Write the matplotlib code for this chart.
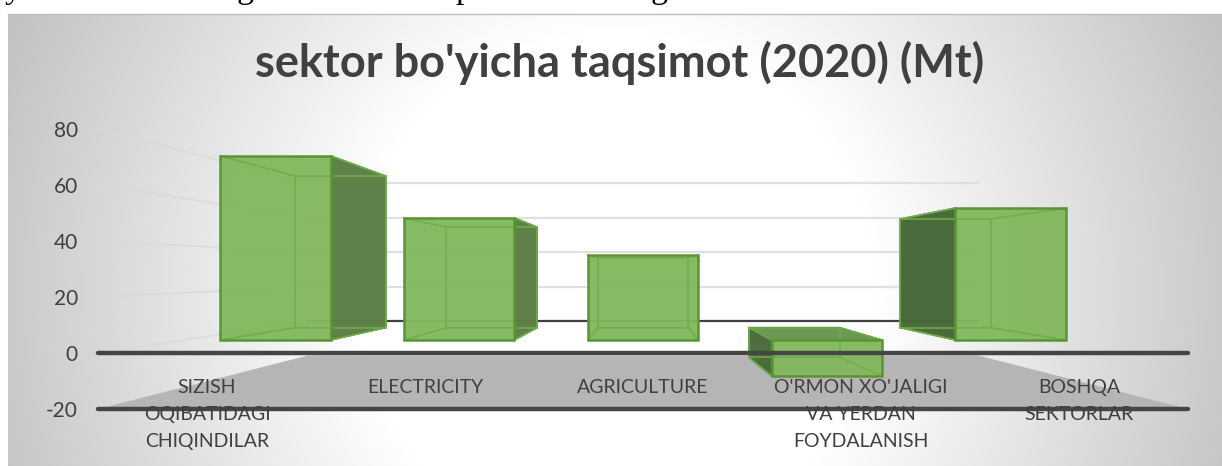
import matplotlib
matplotlib.use('Agg')
import matplotlib.pyplot as plt
import numpy as np
from matplotlib.colors import LinearSegmentedColormap
from matplotlib.patches import Polygon

categories = ['SIZISH\nOQIBATIDAGI\nCHIQINDILAR', 'ELECTRICITY', 'AGRICULTURE',
              "O'RMON XO'JALIGI\nVA YERDAN\nFOYDALANISH", 'BOSHQA\nSEKTORLAR']
values = [78, 51.7, 36, -15.3, 55.9]
y_ticks = [-20, 0, 20, 40, 60, 80]
title = "sektor bo'yicha taqsimot (2020) (Mt)"
# bits of the text line cut off above the chart
cut_letters = ['y', 'g', 'p', 'g']
cut_letters_x = [5, 237, 455, 651]

W, H = 1222, 466
FONT = 'Lato'

# perspective: s=1 is the front plane, s=0.615 the back wall
S_BACK = 0.615
S_BAR_FRONT = 0.843
S_BAR_BACK = 0.694
BAR_W = 0.6
# where the lines meet, in data units
VX, VY = 2.0, 29.6


def project(x, y, s):
    return VX + s * (x - VX), VY + s * (y - VY)


def quad(pts, **kw):
    ax.add_patch(Polygon(pts, closed=True, **kw))


def make_background():
    yy, xx = np.mgrid[0:H, 0:W]
    dx = np.abs(xx - 615) / 615
    dy = np.abs(yy - 290) / 275 * 0.45
    t = np.sqrt(dx ** 2 + dy ** 2)
    t = np.clip((t - 0.42) / 0.68, 0, 1)
    cmap = LinearSegmentedColormap.from_list('bg', ['#ffffff', '#c0c0c0'])
    return cmap(t)


def draw_bar(i, v):
    x0, x1 = i - BAR_W / 2, i + BAR_W / 2
    lo, hi = min(v, 0), max(v, 0)
    f = [project(x0, lo, S_BAR_FRONT), project(x1, lo, S_BAR_FRONT),
         project(x1, hi, S_BAR_FRONT), project(x0, hi, S_BAR_FRONT)]
    b = [project(x0, lo, S_BAR_BACK), project(x1, lo, S_BAR_BACK),
         project(x1, hi, S_BAR_BACK), project(x0, hi, S_BAR_BACK)]
    edge = '#5a9535'
    inner = '#70ad4b'
    if v < 0:
        # the top of a negative bar shows above its front
        quad([f[3], f[2], b[2], b[3]], fc='#6b9855', ec=edge, lw=1.2, zorder=4.1)
    # side that faces the middle of the chart
    if i < VX:
        quad([f[1], b[1], b[2], f[2]], fc='#5c7f45', alpha=0.98, ec='#4f8a2c', lw=1.2, zorder=4.2)
    elif i > VX:
        side = '#486839' if v > 0 else '#4a6b3b'
        quad([f[0], b[0], b[3], f[3]], fc=side, alpha=0.98, ec='#4f8a2c', lw=1.2, zorder=4.2)
    quad(f, fc='#82b85d', alpha=0.96, ec='none', zorder=4.4)
    # frame of the far end and its links, seen through the front
    quad(b, fc='none', ec=inner, lw=1.1, zorder=4.5)
    for p, q in zip(f, b):
        ax.plot([p[0], q[0]], [p[1], q[1]], color=inner, lw=1.1, zorder=4.5)
    quad(f, fc='none', ec=edge, lw=1.8, zorder=4.6)


fig = plt.figure(figsize=(W / 100, H / 100), dpi=100)
fig.patch.set_facecolor('white')

bg = fig.add_axes([8 / W, 0, 1 - 8 / W, 1 - 14 / H])
bg.imshow(make_background()[14:, 8:], aspect='auto')
bg.axis('off')

ax = fig.add_axes([0, 0, 1, 1], facecolor='none')
ax.set_xlim(2 - 643 / 218, 2 + 579 / 218)
ax.set_ylim((353 - H) / 2.8, 353 / 2.8)
for s in ax.spines.values():
    s.set_visible(False)

left, right = -0.5, 4.5
bottom = min(y_ticks)

# floor
quad([project(left, bottom, 1), project(right, bottom, 1),
      project(right, bottom, S_BACK), project(left, bottom, S_BACK)],
     fc='#b5b5b5', ec='none', zorder=1)

# gridlines on the back wall and the left wall
for t in y_ticks[1:]:
    xb0, yb = project(left, t, S_BACK)
    xb1, _ = project(right, t, S_BACK)
    col = '#404040' if t == 0 else '#e0e0e0'
    ax.plot([xb0, xb1], [yb, yb], color=col, lw=1.6, zorder=2, solid_capstyle='round')
    xf, yf = project(left, t, 1)
    ax.plot([xf, xb0], [yf, yb], color='#d9d9d9', lw=1.4, alpha=0.7, zorder=1.5)

for i, v in enumerate(values):
    draw_bar(i, v)

# the two dark front lines
for t in [-20, 0]:
    x0, y0 = project(left, t, 1)
    x1, _ = project(right, t, 1)
    ax.plot([x0, x1], [y0, y0], color='#454545', lw=3.2, zorder=5, solid_capstyle='round')

ax.set_xticks([])
ax.set_yticks(y_ticks)
ax.set_yticklabels([str(t) for t in y_ticks], family=FONT, fontsize=15, color='#404040')
ax.tick_params(axis='y', length=0, pad=-56)

for i, label in enumerate(categories):
    ax.text(i, -9.2, label, ha='center', va='top', family=FONT, fontsize=14,
            color='#404040', linespacing=1.72, zorder=6)

fig.text(620 / W, 1 - 63 / H, title, ha='center', va='center', family=FONT,
         fontsize=32.5, fontweight='bold', color='#404040')

# edge of the chart frame and what is left of the line of text above it
fig.add_artist(plt.Line2D([8 / W, 1], [1 - 13.5 / H, 1 - 13.5 / H], color='#bdbdbd', lw=1))
for letter, x in zip(cut_letters, cut_letters_x):
    fig.text(x / W, 1 + 2 / H, letter, family='Liberation Serif', fontsize=24.5,
             va='baseline', color='black')

fig.savefig('out.png', dpi=100)
